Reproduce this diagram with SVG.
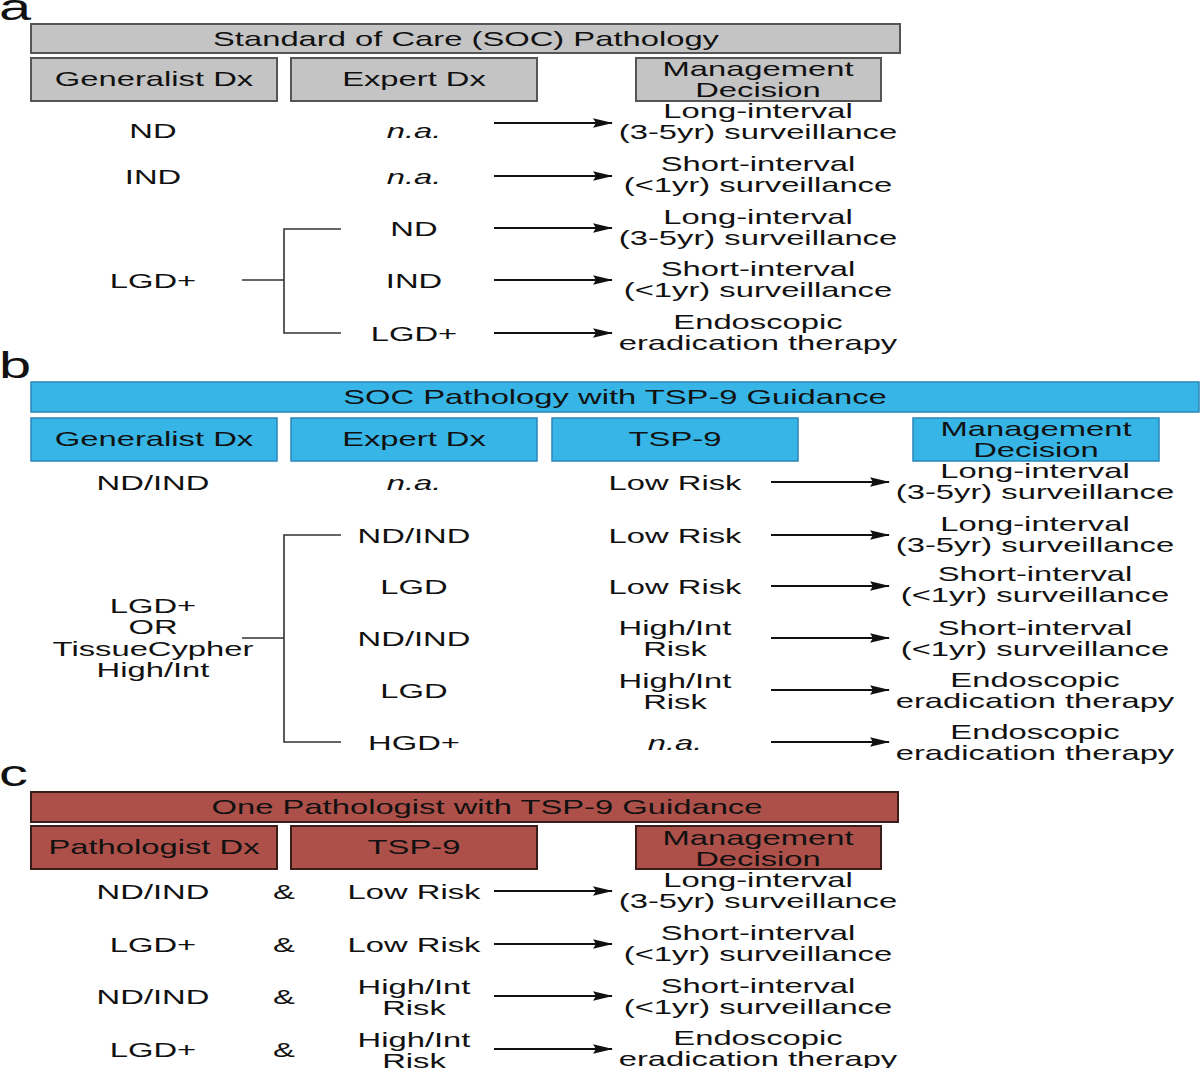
<svg xmlns="http://www.w3.org/2000/svg" width="1200" height="1068" viewBox="0 0 1200 1068">
<style>
  text { font-family: "Liberation Sans", Arial, sans-serif; font-size: 21px; fill: #111111; text-anchor: middle; }
  .lbl { font-size: 37px; text-anchor: start; }
  .it { font-style: italic; }
  .gray { fill: #c4c4c4; stroke: #555555; stroke-width: 2; }
  .blue { fill: #36b5e6; stroke: #2a86b8; stroke-width: 1.5; }
  .red { fill: #ad5049; stroke: #3a1c19; stroke-width: 2; }
  .arr { stroke: #111111; stroke-width: 2; fill: none; marker-end: url(#ah); }
  .br { stroke: #333333; stroke-width: 1.6; fill: none; }
</style>
<defs>
  <marker id="ah" viewBox="0 0 20 10" refX="19" refY="5" markerWidth="20" markerHeight="10" markerUnits="userSpaceOnUse" orient="auto">
    <path d="M0,0.2 L20,5 L0,9.8 L3,5 Z" fill="#111111"/>
  </marker>
</defs>
<rect width="1200" height="1068" fill="#ffffff"/>

<!-- Panel labels -->
<text class="lbl" transform="translate(-1,20) scale(1.56,1)">a</text>
<text class="lbl" transform="translate(-1,378) scale(1.56,1)">b</text>
<text class="lbl" transform="translate(-1,786) scale(1.56,1)">c</text>

<!-- ================= Panel a ================= -->
<g id="a-title"><rect class="gray" x="31" y="24" width="869" height="29"/><text transform="translate(466,46) scale(1.56,1)">Standard of Care (SOC) Pathology</text></g>
<g id="a-h-gen"><rect class="gray" x="31" y="58" width="246" height="43"/><text transform="translate(154,86) scale(1.56,1)">Generalist Dx</text></g>
<g id="a-h-exp"><rect class="gray" x="291" y="58" width="246" height="43"/><text transform="translate(414,86) scale(1.56,1)">Expert Dx</text></g>
<g id="a-h-mgmt"><rect class="gray" x="636" y="58" width="245" height="43"/><text transform="translate(758,76) scale(1.56,1)">Management</text><text transform="translate(758,97) scale(1.56,1)">Decision</text></g>

<g id="a-r1-gen"><text transform="translate(153,137.5) scale(1.56,1)">ND</text></g>
<g id="a-r1-exp"><text class="it" transform="translate(414,137.5) scale(1.56,1)">n.a.</text></g>
<g id="a-r1-mgmt"><text transform="translate(758,118) scale(1.56,1)">Long-interval</text><text transform="translate(758,139) scale(1.56,1)">(3-5yr) surveillance</text></g>

<g id="a-r2-gen"><text transform="translate(153,183.5) scale(1.56,1)">IND</text></g>
<g id="a-r2-exp"><text class="it" transform="translate(414,183.5) scale(1.56,1)">n.a.</text></g>
<g id="a-r2-mgmt"><text transform="translate(758,171) scale(1.56,1)">Short-interval</text><text transform="translate(758,192) scale(1.56,1)">(&lt;1yr) surveillance</text></g>

<g id="a-lgd-gen"><text transform="translate(153,287.5) scale(1.56,1)">LGD+</text></g>
<g id="a-r3-exp"><text transform="translate(414,235.5) scale(1.56,1)">ND</text></g>
<g id="a-r3-mgmt"><text transform="translate(758,224) scale(1.56,1)">Long-interval</text><text transform="translate(758,245) scale(1.56,1)">(3-5yr) surveillance</text></g>
<g id="a-r4-exp"><text transform="translate(414,287.5) scale(1.56,1)">IND</text></g>
<g id="a-r4-mgmt"><text transform="translate(758,276) scale(1.56,1)">Short-interval</text><text transform="translate(758,297) scale(1.56,1)">(&lt;1yr) surveillance</text></g>
<g id="a-r5-exp"><text transform="translate(414,340.5) scale(1.56,1)">LGD+</text></g>
<g id="a-r5-mgmt"><text transform="translate(758,329) scale(1.56,1)">Endoscopic</text><text transform="translate(758,350) scale(1.56,1)">eradication therapy</text></g>

<!-- ================= Panel b ================= -->
<g id="b-title"><rect class="blue" x="31" y="382" width="1168" height="30"/><text transform="translate(615,404) scale(1.56,1)">SOC Pathology with TSP-9 Guidance</text></g>
<g id="b-h-gen"><rect class="blue" x="31" y="418" width="246" height="43"/><text transform="translate(154,446) scale(1.56,1)">Generalist Dx</text></g>
<g id="b-h-exp"><rect class="blue" x="291" y="418" width="246" height="43"/><text transform="translate(414,446) scale(1.56,1)">Expert Dx</text></g>
<g id="b-h-tsp"><rect class="blue" x="552" y="418" width="246" height="43"/><text transform="translate(675,446) scale(1.56,1)">TSP-9</text></g>
<g id="b-h-mgmt"><rect class="blue" x="913" y="418" width="246" height="43"/><text transform="translate(1036,436) scale(1.56,1)">Management</text><text transform="translate(1036,457) scale(1.56,1)">Decision</text></g>

<g id="b-r1-gen"><text transform="translate(153,489.5) scale(1.56,1)">ND/IND</text></g>
<g id="b-r1-exp"><text class="it" transform="translate(414,489.5) scale(1.56,1)">n.a.</text></g>
<g id="b-r1-tsp"><text transform="translate(675,489.5) scale(1.56,1)">Low Risk</text></g>
<g id="b-r1-mgmt"><text transform="translate(1035,478) scale(1.56,1)">Long-interval</text><text transform="translate(1035,499) scale(1.56,1)">(3-5yr) surveillance</text></g>

<g id="b-lgd-gen"><text transform="translate(153,612.5) scale(1.56,1)">LGD+</text><text transform="translate(153,633.5) scale(1.56,1)">OR</text><text transform="translate(153,655.5) scale(1.56,1)">TissueCypher</text><text transform="translate(153,676.5) scale(1.56,1)">High/Int</text></g>

<g id="b-r2-exp"><text transform="translate(414,542.5) scale(1.56,1)">ND/IND</text></g>
<g id="b-r2-tsp"><text transform="translate(675,542.5) scale(1.56,1)">Low Risk</text></g>
<g id="b-r2-mgmt"><text transform="translate(1035,531) scale(1.56,1)">Long-interval</text><text transform="translate(1035,552) scale(1.56,1)">(3-5yr) surveillance</text></g>

<g id="b-r3-exp"><text transform="translate(414,593.5) scale(1.56,1)">LGD</text></g>
<g id="b-r3-tsp"><text transform="translate(675,593.5) scale(1.56,1)">Low Risk</text></g>
<g id="b-r3-mgmt"><text transform="translate(1035,581) scale(1.56,1)">Short-interval</text><text transform="translate(1035,602) scale(1.56,1)">(&lt;1yr) surveillance</text></g>

<g id="b-r4-exp"><text transform="translate(414,645.5) scale(1.56,1)">ND/IND</text></g>
<g id="b-r4-tsp"><text transform="translate(675,635) scale(1.56,1)">High/Int</text><text transform="translate(675,656) scale(1.56,1)">Risk</text></g>
<g id="b-r4-mgmt"><text transform="translate(1035,635) scale(1.56,1)">Short-interval</text><text transform="translate(1035,656) scale(1.56,1)">(&lt;1yr) surveillance</text></g>

<g id="b-r5-exp"><text transform="translate(414,697.5) scale(1.56,1)">LGD</text></g>
<g id="b-r5-tsp"><text transform="translate(675,688) scale(1.56,1)">High/Int</text><text transform="translate(675,709) scale(1.56,1)">Risk</text></g>
<g id="b-r5-mgmt"><text transform="translate(1035,687) scale(1.56,1)">Endoscopic</text><text transform="translate(1035,708) scale(1.56,1)">eradication therapy</text></g>

<g id="b-r6-exp"><text transform="translate(414,749.5) scale(1.56,1)">HGD+</text></g>
<g id="b-r6-tsp"><text class="it" transform="translate(675,749.5) scale(1.56,1)">n.a.</text></g>
<g id="b-r6-mgmt"><text transform="translate(1035,739) scale(1.56,1)">Endoscopic</text><text transform="translate(1035,760) scale(1.56,1)">eradication therapy</text></g>

<!-- ================= Panel c ================= -->
<g id="c-title"><rect class="red" x="31" y="792" width="867" height="30"/><text transform="translate(487,814) scale(1.56,1)">One Pathologist with TSP-9 Guidance</text></g>
<g id="c-h-path"><rect class="red" x="31" y="826" width="246" height="43"/><text transform="translate(154,854) scale(1.56,1)">Pathologist Dx</text></g>
<g id="c-h-tsp"><rect class="red" x="291" y="826" width="246" height="43"/><text transform="translate(414,854) scale(1.56,1)">TSP-9</text></g>
<g id="c-h-mgmt"><rect class="red" x="636" y="826" width="245" height="43"/><text transform="translate(758,845) scale(1.56,1)">Management</text><text transform="translate(758,866) scale(1.56,1)">Decision</text></g>

<g id="c-r1"><text transform="translate(153,898.5) scale(1.56,1)">ND/IND</text><text transform="translate(284,898.5) scale(1.56,1)">&amp;</text><text transform="translate(414,898.5) scale(1.56,1)">Low Risk</text></g>
<g id="c-r1-mgmt"><text transform="translate(758,887) scale(1.56,1)">Long-interval</text><text transform="translate(758,908) scale(1.56,1)">(3-5yr) surveillance</text></g>

<g id="c-r2"><text transform="translate(153,951.5) scale(1.56,1)">LGD+</text><text transform="translate(284,951.5) scale(1.56,1)">&amp;</text><text transform="translate(414,951.5) scale(1.56,1)">Low Risk</text></g>
<g id="c-r2-mgmt"><text transform="translate(758,940) scale(1.56,1)">Short-interval</text><text transform="translate(758,961) scale(1.56,1)">(&lt;1yr) surveillance</text></g>

<g id="c-r3"><text transform="translate(153,1003.5) scale(1.56,1)">ND/IND</text><text transform="translate(284,1003.5) scale(1.56,1)">&amp;</text><text transform="translate(414,994) scale(1.56,1)">High/Int</text><text transform="translate(414,1015) scale(1.56,1)">Risk</text></g>
<g id="c-r3-mgmt"><text transform="translate(758,993) scale(1.56,1)">Short-interval</text><text transform="translate(758,1014) scale(1.56,1)">(&lt;1yr) surveillance</text></g>

<g id="c-r4"><text transform="translate(153,1056.5) scale(1.56,1)">LGD+</text><text transform="translate(284,1056.5) scale(1.56,1)">&amp;</text><text transform="translate(414,1047) scale(1.56,1)">High/Int</text><text transform="translate(414,1068) scale(1.56,1)">Risk</text></g>
<g id="c-r4-mgmt"><text transform="translate(758,1045) scale(1.56,1)">Endoscopic</text><text transform="translate(758,1066) scale(1.56,1)">eradication therapy</text></g>

<!-- ================= Connectors ================= -->
<g id="connectors">
  <!-- panel a -->
  <line class="arr" x1="494" y1="123" x2="612" y2="123"/>
  <line class="arr" x1="494" y1="176" x2="612" y2="176"/>
  <line class="arr" x1="494" y1="228" x2="612" y2="228"/>
  <line class="arr" x1="494" y1="280" x2="612" y2="280"/>
  <line class="arr" x1="494" y1="333" x2="612" y2="333"/>
  <path class="br" d="M242,280 H284 M341,229 H284 V333 H341"/>
  <!-- panel b -->
  <line class="arr" x1="771" y1="482" x2="889" y2="482"/>
  <line class="arr" x1="771" y1="535" x2="889" y2="535"/>
  <line class="arr" x1="771" y1="586" x2="889" y2="586"/>
  <line class="arr" x1="771" y1="638" x2="889" y2="638"/>
  <line class="arr" x1="771" y1="690" x2="889" y2="690"/>
  <line class="arr" x1="771" y1="742" x2="889" y2="742"/>
  <path class="br" d="M242,638 H284 M341,535 H284 V742 H341"/>
  <!-- panel c -->
  <line class="arr" x1="494" y1="891" x2="612" y2="891"/>
  <line class="arr" x1="494" y1="944" x2="612" y2="944"/>
  <line class="arr" x1="494" y1="996" x2="612" y2="996"/>
  <line class="arr" x1="494" y1="1049" x2="612" y2="1049"/>
</g>
</svg>
